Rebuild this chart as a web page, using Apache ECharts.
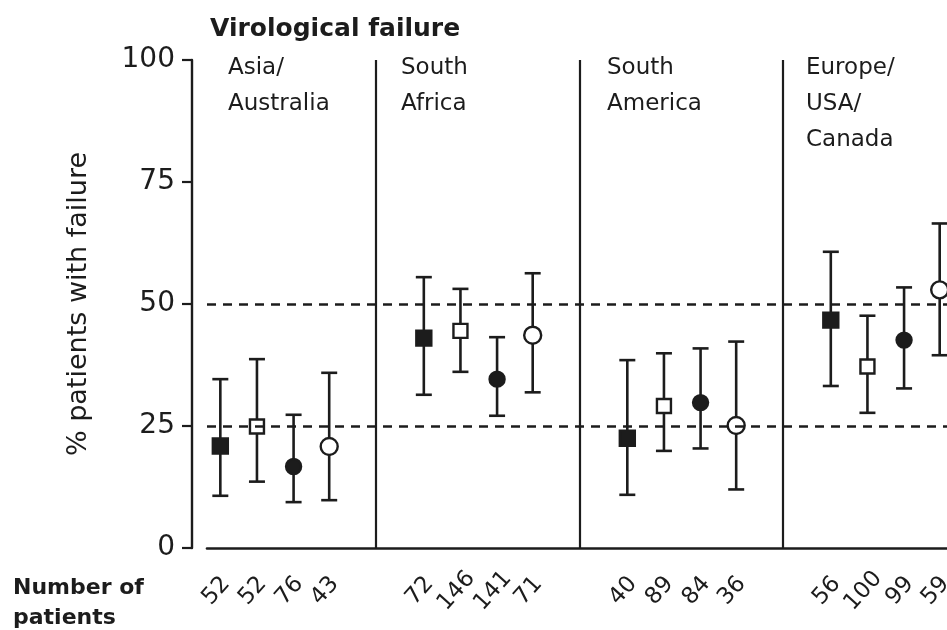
<!DOCTYPE html>
<html>
<head>
<meta charset="utf-8">
<script src="https://cdn.jsdelivr.net/npm/echarts@6/dist/echarts.min.js"></script>
<style>
  html, body { margin: 0; padding: 0; background: #ffffff; }
  #chart { width: 947px; height: 630px; }
</style>
</head>
<body>
<div id="chart"></div>
<script>
// ---- data ----
const regions = ['Asia/\nAustralia', 'South\nAfrica', 'South\nAmerica', 'Europe/\nUSA/\nCanada'];
const yTicks = [0, 25, 50, 75, 100];
const referenceLines = [25, 50];

// four treatment groups (marker styles), one value per region
const nFilledSquare  = [52, 72, 40, 56];
const nOpenSquare    = [52, 146, 89, 100];
const nFilledCircle  = [76, 141, 84, 99];
const nOpenCircle    = [43, 71, 36, 59];

const pctFilledSquare = [20.9, 43.0, 22.5, 46.7];
const loFilledSquare  = [10.7, 31.4, 10.9, 33.2];
const hiFilledSquare  = [34.6, 55.5, 38.5, 60.7];

const pctOpenSquare = [24.9, 44.5, 29.1, 37.2];
const loOpenSquare  = [13.6, 36.1, 19.9, 27.7];
const hiOpenSquare  = [38.7, 53.1, 39.9, 47.6];

const pctFilledCircle = [16.7, 34.6, 29.8, 42.6];
const loFilledCircle  = [9.4, 27.1, 20.4, 32.7];
const hiFilledCircle  = [27.3, 43.2, 40.9, 53.4];

const pctOpenCircle = [20.8, 43.6, 25.1, 52.9];
const loOpenCircle  = [9.8, 31.9, 12.0, 39.5];
const hiOpenCircle  = [35.9, 56.3, 42.3, 66.5];

// ---- layout ----
const INK = '#1c1c1c';
const FONT = 'DejaVu Sans';
const slotOffset = [0.235, 0.415, 0.595, 0.77];   // position of each group inside a region (region width = 1)
const labelShift = -0.02;                          // patient-number labels sit slightly left of their marker

const groups = [
  { name: 'Filled square', n: nFilledSquare, pct: pctFilledSquare, lo: loFilledSquare, hi: hiFilledSquare,
    symbol: 'rect', size: 15, fill: INK },
  { name: 'Open square', n: nOpenSquare, pct: pctOpenSquare, lo: loOpenSquare, hi: hiOpenSquare,
    symbol: 'rect', size: 14, fill: '#ffffff' },
  { name: 'Filled circle', n: nFilledCircle, pct: pctFilledCircle, lo: loFilledCircle, hi: hiFilledCircle,
    symbol: 'circle', size: 15, fill: INK },
  { name: 'Open circle', n: nOpenCircle, pct: pctOpenCircle, lo: loOpenCircle, hi: hiOpenCircle,
    symbol: 'circle', size: 17, fill: '#ffffff' }
];

const xPos = (r, g) => r + slotOffset[g];

// label positions and texts for the x axis (patient numbers)
const labelPositions = [];
const labelTexts = {};
regions.forEach((reg, r) => {
  groups.forEach((grp, g) => {
    const x = xPos(r, g) + labelShift;
    labelPositions.push(x);
    labelTexts[Math.round(x * 1000)] = String(grp.n[r]);
  });
});

const series = [];

// error bars
const errData = [];
groups.forEach((grp, g) => {
  regions.forEach((reg, r) => {
    errData.push([xPos(r, g), grp.lo[r], grp.hi[r]]);
  });
});
series.push({
  type: 'custom',
  name: 'CI',
  z: 2,
  silent: true,
  data: errData,
  encode: { x: 0, y: [1, 2] },
  renderItem: function (params, api) {
    const x = api.value(0);
    const lo = api.coord([x, api.value(1)]);
    const hi = api.coord([x, api.value(2)]);
    const cap = 8;
    const style = { stroke: INK, lineWidth: 2.6 };
    return {
      type: 'group',
      children: [
        { type: 'line', shape: { x1: lo[0], y1: lo[1], x2: hi[0], y2: hi[1] }, style: style },
        { type: 'line', shape: { x1: lo[0] - cap, y1: lo[1], x2: lo[0] + cap, y2: lo[1] }, style: style },
        { type: 'line', shape: { x1: hi[0] - cap, y1: hi[1], x2: hi[0] + cap, y2: hi[1] }, style: style }
      ]
    };
  }
});

// point markers
groups.forEach((grp, g) => {
  series.push({
    type: 'scatter',
    name: grp.name,
    z: 3,
    symbol: grp.symbol,
    symbolSize: grp.size,
    itemStyle: { color: grp.fill, borderColor: INK, borderWidth: 2.4, opacity: 1 },
    data: regions.map((reg, r) => [xPos(r, g), grp.pct[r]])
  });
});

// reference lines and region dividers
series.push({
  type: 'line',
  name: 'guides',
  data: [],
  silent: true,
  markLine: {
    silent: true,
    symbol: ['none', 'none'],
    label: { show: false },
    animation: false,
    data: referenceLines.map(v => ({ yAxis: v, lineStyle: { type: [9, 7], color: INK, width: 2.6 } }))
      .concat(regions.slice(1).map((reg, i) => ({ xAxis: i + 1, lineStyle: { type: 'solid', color: INK, width: 2.2 } })))
  }
});

const regionLabelX = [228, 401, 607, 806];

const chart = echarts.init(document.getElementById('chart'), null, { renderer: 'canvas' });
chart.setOption({
  backgroundColor: '#ffffff',
  animation: false,
  title: {
    text: 'Virological failure',
    left: 205,
    top: 12,
    textStyle: { fontFamily: FONT, fontWeight: 'bold', fontSize: 25, color: INK }
  },
  grid: { left: 207, right: 0, top: 60, bottom: 82, containLabel: false, outerBoundsMode: 'none' },
  xAxis: {
    type: 'value',
    min: 0.1695,
    max: 3.806,
    axisLine: { show: true, onZero: false, lineStyle: { color: INK, width: 2.6 } },
    axisTick: { show: false },
    splitLine: { show: false },
    axisLabel: {
      customValues: labelPositions,
      showMinLabel: true,
      showMaxLabel: true,
      hideOverlap: false,
      rotate: 48,
      align: 'center',
      verticalAlign: 'middle',
      margin: 43,
      fontFamily: FONT,
      fontSize: 23,
      color: INK,
      formatter: function (v) { return labelTexts[Math.round(v * 1000)] || ''; }
    }
  },
  yAxis: {
    type: 'value',
    min: 0,
    max: 100,
    interval: 25,
    offset: 15,
    name: '% patients with failure',
    nameLocation: 'middle',
    nameRotate: 90,
    nameGap: 100,
    nameTextStyle: { fontFamily: FONT, fontSize: 27, color: INK },
    axisLine: { show: true, lineStyle: { color: INK, width: 2.4 } },
    axisTick: { show: true, length: 10, lineStyle: { color: INK, width: 2.2 } },
    splitLine: { show: false },
    axisLabel: { margin: 17, fontFamily: FONT, fontSize: 28, color: INK }
  },
  graphic: regions.map((reg, r) => ({
    type: 'text',
    x: regionLabelX[r],
    y: 50,
    style: { text: reg, fontFamily: FONT, fontSize: 23, lineHeight: 36, fill: INK, verticalAlign: 'top' }
  })).concat([{
    type: 'text',
    x: 13,
    y: 573,
    style: { text: 'Number of\npatients', fontFamily: FONT, fontWeight: 'bold', fontSize: 22, lineHeight: 30, fill: INK, verticalAlign: 'top' }
  }]),
  series: series
});
</script>
</body>
</html>
